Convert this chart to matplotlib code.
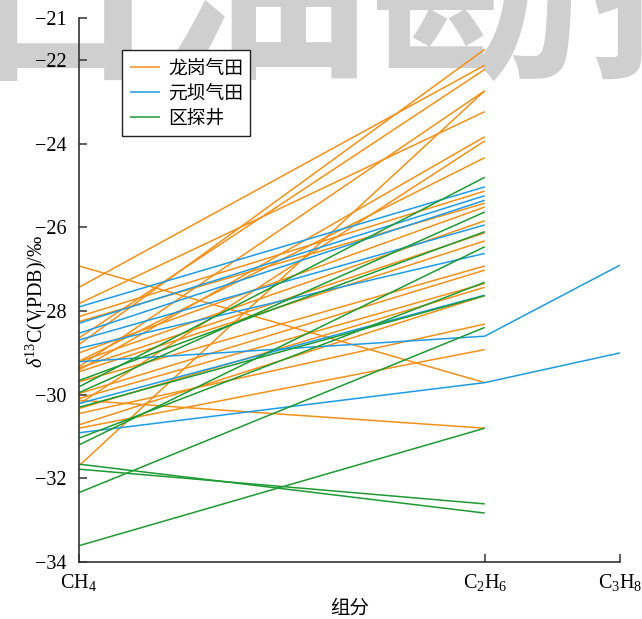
import numpy as np
import matplotlib
matplotlib.use("Agg")
import matplotlib.pyplot as plt

plt.rcParams["font.family"] = ["Liberation Serif", "Noto Sans CJK SC"]
plt.rcParams["mathtext.fontset"] = "custom"
plt.rcParams["mathtext.rm"] = "Liberation Serif"
plt.rcParams["mathtext.it"] = "Liberation Serif:italic"
plt.rcParams["axes.unicode_minus"] = True

# Components (x position is the reciprocal carbon number)
components = ["CH$_4$", "C$_2$H$_6$", "C$_3$H$_8$"]
carbon_number = [1, 2, 3]

groups = ["龙岗气田", "元坝气田", "区探井"]
colors = ["#F39019", "#1E9BE6", "#1E9A32"]

# 龙岗气田 δ13C values, ‰
lg_ch4 = [-26.92, -27.43, -27.82, -28.13, -28.25, -28.64, -28.80, -29.00, -29.20,
          -29.21, -29.33, -29.36, -29.41, -29.45, -29.69, -29.97, -30.09, -30.13,
          -30.22, -30.33, -30.45, -30.72, -30.80, -31.70]
lg_c2h6 = [-29.71, -22.12, -23.23, -25.13, -25.42, -22.22, -21.74, -25.51, -24.33,
           -25.84, -22.73, -26.13, -23.83, -26.32, -26.92, -27.02, -27.34, -30.80,
           -23.93, -27.43, -28.31, -27.63, -28.92, -22.73]

# 元坝气田
yb_ch4 = [-27.90, -28.29, -28.53, -28.69, -28.89, -29.21, -30.21, -30.91]
yb_c2h6 = [-25.03, -25.24, -25.35, -25.94, -26.62, -28.60, -27.62, -29.71]
yb_c3h8 = [np.nan, np.nan, np.nan, np.nan, np.nan, -26.90, np.nan, -29.00]

# 区探井
qt_ch4 = [-29.81, -29.66, -29.95, -31.04, -31.20, -30.30, -32.34, -33.61, -31.78, -31.66]
qt_c2h6 = [-24.80, -26.10, -25.63, -27.31, -26.46, -27.63, -28.39, -30.80, -32.61, -32.83]

y_ticks = [-34, -32, -30, -28, -26, -24, -22, -21]

W, H = 642, 619
fig = plt.figure(figsize=(W / 100, H / 100), dpi=100)
ax = fig.add_axes([79 / W, 1 - 562 / H, (620 - 79) / W, (562 - 18.4) / H])
ax.patch.set_visible(False)

# watermark behind the axes
fig.text(-60 / W, 1 - 62 / H, "石油勘探与开发", fontsize=155, color="#cfcfcf",
         family="Noto Sans CJK SC", fontweight="bold", ha="left", va="baseline",
         zorder=-5)

xpos = [1.0 / n for n in carbon_number]


def draw(ch4, c2h6, c3h8, color, label):
    for i in range(len(ch4)):
        vals = [ch4[i], c2h6[i], c3h8[i] if c3h8 is not None else np.nan]
        pts = [(x, v) for x, v in zip(xpos, vals) if not np.isnan(v)]
        xs, ys = zip(*pts)
        ax.plot(xs, ys, color=color, lw=1.1, solid_capstyle="butt",
                label=label if i == 0 else None, zorder=2)


draw(lg_ch4, lg_c2h6, None, colors[0], groups[0])
draw(yb_ch4, yb_c2h6, yb_c3h8, colors[1], groups[1])
draw(qt_ch4, qt_c2h6, None, colors[2], groups[2])

ax.set_xlim(1.0, 1.0 / 3)
ax.set_ylim(-34, -21)
ax.set_xticks(xpos)
ax.set_xticklabels(components, fontsize=14.5)
ax.set_yticks(y_ticks)
ax.set_yticklabels([f"\u2212{abs(t)}" for t in y_ticks], fontsize=14.5)

for s in ["top", "right"]:
    ax.spines[s].set_visible(False)
for s in ["left", "bottom"]:
    ax.spines[s].set_color("#333333")
    ax.spines[s].set_linewidth(1.2)
ax.tick_params(direction="in", length=6, width=1.1, color="#333333")
ax.tick_params(axis="y", pad=9)
ax.tick_params(axis="x", pad=7)

ax.set_ylabel(r"$\delta^{13}$C(VPDB)/‰", fontsize=14.5)
ax.yaxis.set_label_coords(-0.055, 0.48)
ax.set_xlabel("组分", fontsize=14, family="Noto Sans CJK SC")
ax.xaxis.set_label_coords(0.5, -0.065)

leg = ax.legend(loc="upper left", bbox_to_anchor=(122 / W, 1 - 50 / H),
                bbox_transform=fig.transFigure, borderaxespad=0,
                fancybox=False, edgecolor="#222222", framealpha=1,
                prop={"family": "Noto Sans CJK SC", "size": 13.5},
                handlelength=1.6, labelspacing=0.22, borderpad=0.4,
                handletextpad=0.45)
leg.get_frame().set_linewidth(1.0)

fig.savefig("out.png", dpi=100)
